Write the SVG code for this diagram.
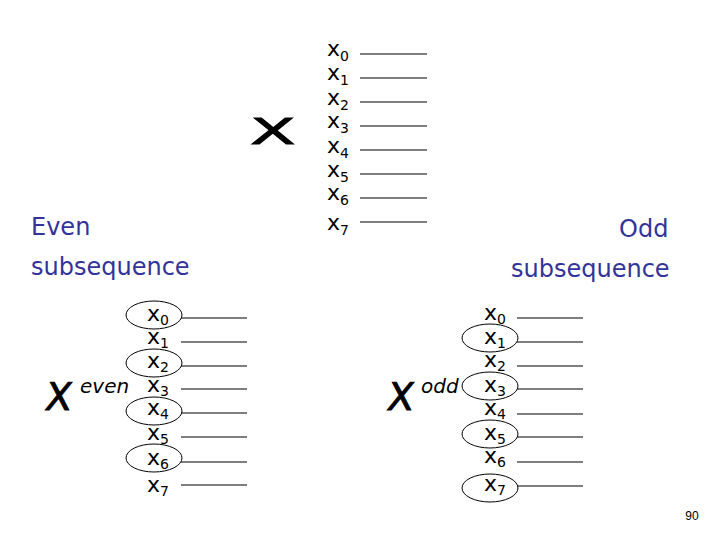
<svg xmlns="http://www.w3.org/2000/svg" width="720" height="540" viewBox="0 0 720 540">
<style>
.lbl{font-family:"DejaVu Sans",sans-serif;font-size:22px;fill:#000}
.sub{font-size:14px}
.ln{stroke:#000;stroke-width:1.1}
.ell{fill:none;stroke:#000;stroke-width:1}
.head{font-family:"DejaVu Sans",sans-serif;font-size:24px;fill:#333399}
.big{font-family:"DejaVu Sans",sans-serif;font-size:38px;fill:#000;stroke:#000;stroke-width:0.9}
.it{font-family:"DejaVu Sans",sans-serif;font-size:20px;font-style:italic;fill:#000}
</style>
<rect width="720" height="540" fill="#fff"/>
<g id="top-column">
  <text class="big" transform="translate(250,144) scale(1.75,0.95)" x="0" y="0">X</text>
  <text class="lbl" x="327" y="56">x<tspan class="sub" dy="5">0</tspan></text>
  <text class="lbl" x="327" y="80">x<tspan class="sub" dy="5">1</tspan></text>
  <text class="lbl" x="327" y="105">x<tspan class="sub" dy="5">2</tspan></text>
  <text class="lbl" x="327" y="128">x<tspan class="sub" dy="5">3</tspan></text>
  <text class="lbl" x="327" y="153">x<tspan class="sub" dy="5">4</tspan></text>
  <text class="lbl" x="327" y="177">x<tspan class="sub" dy="5">5</tspan></text>
  <text class="lbl" x="327" y="200">x<tspan class="sub" dy="5">6</tspan></text>
  <text class="lbl" x="327" y="230">x<tspan class="sub" dy="5">7</tspan></text>
</g>
<g id="even-column">
  <text class="big" transform="translate(44,410) skewX(-8)" x="0" y="0">X</text>
  <text class="it" x="80" y="393">even</text>
  <ellipse class="ell" cx="154" cy="315" rx="28" ry="14"/>
  <ellipse class="ell" cx="154" cy="363" rx="28" ry="14"/>
  <ellipse class="ell" cx="154" cy="411" rx="28" ry="14"/>
  <ellipse class="ell" cx="154" cy="458" rx="28" ry="14"/>
  <text class="lbl" x="147" y="321">x<tspan class="sub" dy="4">0</tspan></text>
  <text class="lbl" x="147" y="344">x<tspan class="sub" dy="4">1</tspan></text>
  <text class="lbl" x="147" y="368">x<tspan class="sub" dy="4">2</tspan></text>
  <text class="lbl" x="147" y="392">x<tspan class="sub" dy="4">3</tspan></text>
  <text class="lbl" x="147" y="415">x<tspan class="sub" dy="4">4</tspan></text>
  <text class="lbl" x="147" y="440">x<tspan class="sub" dy="4">5</tspan></text>
  <text class="lbl" x="147" y="465">x<tspan class="sub" dy="4">6</tspan></text>
  <text class="lbl" x="147" y="492">x<tspan class="sub" dy="4">7</tspan></text>
</g>
<g id="odd-column">
  <text class="big" transform="translate(386,410) skewX(-8)" x="0" y="0">X</text>
  <text class="it" x="421" y="393">odd</text>
  <ellipse class="ell" cx="490" cy="338" rx="28" ry="14"/>
  <ellipse class="ell" cx="490" cy="386" rx="28" ry="14"/>
  <ellipse class="ell" cx="490" cy="434" rx="28" ry="14"/>
  <ellipse class="ell" cx="490" cy="488" rx="28" ry="14"/>
  <text class="lbl" x="484" y="320">x<tspan class="sub" dy="4">0</tspan></text>
  <text class="lbl" x="484" y="344">x<tspan class="sub" dy="4">1</tspan></text>
  <text class="lbl" x="484" y="367">x<tspan class="sub" dy="4">2</tspan></text>
  <text class="lbl" x="484" y="392">x<tspan class="sub" dy="4">3</tspan></text>
  <text class="lbl" x="484" y="415">x<tspan class="sub" dy="4">4</tspan></text>
  <text class="lbl" x="484" y="440">x<tspan class="sub" dy="4">5</tspan></text>
  <text class="lbl" x="484" y="463">x<tspan class="sub" dy="4">6</tspan></text>
  <text class="lbl" x="484" y="491">x<tspan class="sub" dy="4">7</tspan></text>
</g>
<g id="connectors">
  <path class="ln" d="M360 54H427M360 78H427M360 102H427M360 126H427M360 150H427M360 174H427M360 198H427M360 222H427"/>
  <path class="ln" d="M181 318H247M181 342H247M181 366H247M181 389H247M181 413H247M181 437H247M181 462H247M181 485H247"/>
  <path class="ln" d="M517 318H583M517 342H583M517 366H583M517 389H583M517 414H583M517 437H583M517 462H583M517 486H583"/>
</g>
<g id="headings">
  <text class="head" x="31" y="235">Even</text>
  <text class="head" x="31" y="275">subsequence</text>
  <text class="head" x="619" y="237">Odd</text>
  <text class="head" x="511" y="277">subsequence</text>
</g>
<text x="692" y="520" text-anchor="middle" font-family="Liberation Sans,sans-serif" font-size="12" fill="#000">90</text>
</svg>
